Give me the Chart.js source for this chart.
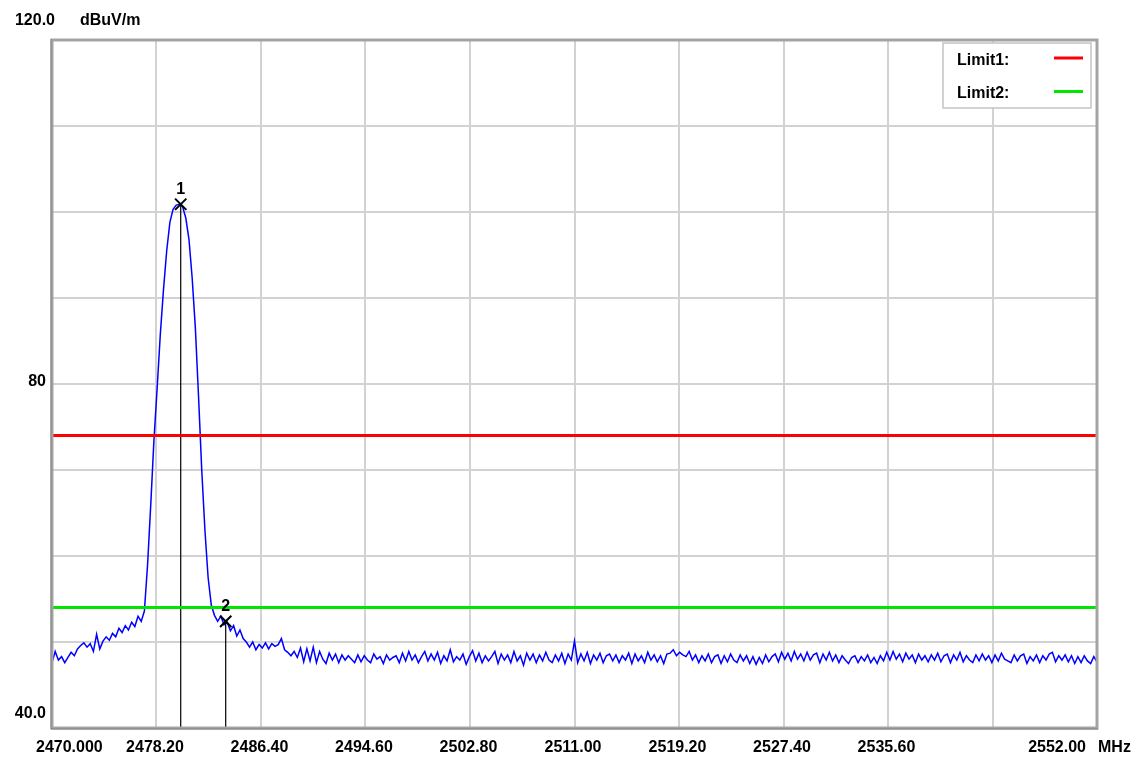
<!DOCTYPE html>
<html><head><meta charset="utf-8">
<script src="https://cdn.jsdelivr.net/npm/chart.js@4"></script>
<style>html,body{margin:0;padding:0;background:#fff;overflow:hidden}#wrap{width:1137px;height:758px;position:relative}</style>
</head><body><div id="wrap"><canvas id="c" width="1137" height="758"></canvas></div>
<script>
// ---- data ----
const freqStart = 2470.0;   // MHz, first sweep point
const freqStep = 0.25;      // MHz between sweep points
const levels = [
 47.6,48.9,47.9,48.3,47.6,48.2,48.8,48.4,49.2,49.6,49.9,49.4,49.8,48.9,50.9,49.2,50.1,50.6,50.2,51.0,
 50.6,51.6,51.1,51.9,51.4,52.3,51.8,53.0,52.4,53.6,59.0,66.0,73.5,79.5,85.8,91.0,95.5,98.8,100.3,100.8,
 100.9,100.6,99.3,96.8,92.3,86.5,78.5,70.0,63.0,57.5,54.3,53.1,52.4,53.0,52.0,52.3,51.3,51.9,50.7,51.4,
 50.4,50.0,49.4,50.0,49.1,49.7,49.3,49.9,49.2,49.8,49.5,49.7,50.4,49.1,48.8,48.4,48.9,
 48.2,49.3,47.7,49.2,47.8,49.4,47.6,48.9,48.0,47.5,48.7,47.9,48.6,47.6,48.5,47.9,48.4,48.0,47.6,48.5,
 47.7,48.4,47.9,47.6,48.6,48.0,48.3,47.5,48.5,47.9,48.2,48.4,47.6,48.7,47.8,48.9,47.9,48.5,47.6,48.3,
 48.9,47.8,48.6,47.9,48.8,47.5,48.4,47.8,49.1,47.7,48.3,47.9,48.6,47.4,48.3,49.0,47.8,48.7,47.6,48.4,
 47.8,48.3,48.9,47.5,48.6,47.9,48.5,47.6,48.9,47.8,48.4,47.3,48.7,47.9,48.6,47.6,48.5,47.8,48.8,47.9,
 47.6,48.5,47.8,48.7,47.5,48.6,47.9,50.1,47.6,48.6,47.8,48.8,47.5,48.5,47.9,48.7,47.6,48.4,48.6,47.8,
 48.5,47.6,48.4,47.9,48.7,47.5,48.6,47.8,48.4,47.6,48.8,47.9,48.5,47.7,48.4,47.5,48.6,48.7,49.1,48.4,
 48.8,48.5,48.3,48.9,47.9,48.5,47.6,48.4,47.8,48.6,47.6,48.3,48.5,47.5,48.4,47.7,48.6,47.9,47.6,48.5,
 47.8,48.4,47.5,48.3,47.4,48.2,47.5,48.5,47.7,48.3,48.6,47.7,48.8,48.0,48.7,47.8,48.9,48.0,48.6,47.8,
 48.8,47.9,48.5,48.7,47.6,48.6,47.9,48.8,47.8,48.5,47.6,48.4,47.9,47.5,48.2,48.4,47.6,48.3,47.8,48.5,
 47.6,48.2,47.5,48.4,47.8,48.8,47.9,48.9,48.0,48.6,47.7,48.7,48.0,48.5,47.6,48.6,47.9,48.4,47.7,48.5,
 47.9,48.7,47.7,48.4,48.6,47.6,48.5,47.9,48.8,47.7,48.4,47.9,47.6,48.5,47.8,48.6,47.9,48.4,47.6,48.5,
 47.8,48.7,48.0,47.8,47.6,48.5,47.8,48.4,48.6,47.5,48.3,47.8,48.5,47.6,48.4,47.9,48.6,48.8,47.7,48.4,
 47.9,48.5,47.7,48.4,47.5,48.3,47.6,48.4,47.8,47.5,48.3,47.7
];
const xTickValues = [2470.0,2478.2,2486.4,2494.6,2502.8,2511.0,2519.2,2527.4,2535.6,2543.8,2552.0];
const xTickLabels = ['2470.000','2478.20','2486.40','2494.60','2502.80','2511.00','2519.20','2527.40','2535.60','','2552.00'];
const yTickValues = [40,50,60,70,80,90,100,110,120];
const yTickLabels = ['40.0','','','','80','','','','120.0'];
const xUnit = 'MHz';
const yUnit = 'dBuV/m';
const limitNames = ['Limit1:','Limit2:'];
const limitLevels = [74.0, 54.0];
const limitColors = ['#ff0000','#00e600'];
const markerNames = ['1','2'];
const markerFreqs = [2480.1, 2483.63];
const markerLevels = [100.9, 52.4];

// ---- chart ----
const FONT = 'bold 16px "Liberation Sans", Arial, sans-serif';
const xMin = xTickValues[0], xMax = xTickValues[xTickValues.length-1];
const yMin = yTickValues[0], yMax = yTickValues[yTickValues.length-1];
const trace = levels.map((v,i)=>({x: freqStart + i*freqStep, y: v}));

const datasets = [];
limitLevels.forEach((lv,i)=>{
  datasets.push({data:[{x:xMin,y:lv},{x:xMax,y:lv}],borderColor:limitColors[i],borderWidth:3,pointRadius:0,order:1});
});
markerFreqs.forEach((f,i)=>{
  datasets.push({data:[{x:f,y:markerLevels[i]},{x:f,y:yMin}],borderColor:'#000',borderWidth:1.2,pointRadius:0,order:2});
});
datasets.push({data:markerFreqs.map((f,i)=>({x:f,y:markerLevels[i]})),showLine:false,pointStyle:'crossRot',pointRadius:8,pointBorderColor:'#000',pointBorderWidth:2,order:0});
datasets.push({data:trace,borderColor:'#0000ff',borderWidth:1.5,pointRadius:0,tension:0,order:3});

const overlay = {
  id:'overlay',
  afterDraw(chart){
    const ctx = chart.ctx, a = chart.chartArea, xs = chart.scales.x, ys = chart.scales.y;
    ctx.save();
    // frame
    ctx.strokeStyle = '#a4a4a4'; ctx.lineWidth = 3;
    ctx.strokeRect(a.left, a.top, a.right-a.left, a.bottom-a.top);
    ctx.strokeStyle = '#808080'; ctx.lineWidth = 1;
    ctx.beginPath(); ctx.moveTo(a.left-1, a.top-1); ctx.lineTo(a.left-1, a.bottom+1); ctx.lineTo(a.right+1, a.bottom+1); ctx.stroke();
    ctx.fillStyle = '#000'; ctx.font = FONT; ctx.textBaseline = 'alphabetic';
    // y labels
    yTickValues.forEach((v,i)=>{
      const t = yTickLabels[i]; if(!t) return;
      const y = ys.getPixelForValue(v);
      if (i === yTickValues.length-1) { ctx.textAlign='right'; ctx.fillText(t, a.left+3, a.top-15); }
      else if (i === 0) { ctx.textAlign='right'; ctx.fillText(t, a.left-6, y-10); }
      else { ctx.textAlign='right'; ctx.fillText(t, a.left-6, y+2); }
    });
    ctx.textAlign='left'; ctx.fillText(yUnit, a.left+28, a.top-15);
    // x labels
    const last = xTickValues.length-1;
    xTickValues.forEach((v,i)=>{
      const t = xTickLabels[i]; if(!t) return;
      const x = xs.getPixelForValue(v);
      if (i === 0) { ctx.textAlign='left'; ctx.fillText(t, x-16, a.bottom+24); }
      else if (i === last) { ctx.textAlign='right'; ctx.fillText(t, x-11, a.bottom+24); }
      else { ctx.textAlign='center'; ctx.fillText(t, x-1.5, a.bottom+24); }
    });
    ctx.textAlign='left'; ctx.fillText(xUnit, a.right+1, a.bottom+24);
    // marker names
    ctx.textAlign='center';
    markerFreqs.forEach((f,i)=>{
      ctx.fillText(markerNames[i], xs.getPixelForValue(f), ys.getPixelForValue(markerLevels[i])-10);
    });
    // legend box
    const bx = a.right-154, by = a.top+3, bw = 148, bh = 65;
    ctx.fillStyle = '#fff'; ctx.fillRect(bx, by, bw, bh);
    ctx.strokeStyle = '#c4c4c4'; ctx.lineWidth = 1.5; ctx.strokeRect(bx, by, bw, bh);
    ctx.textAlign='left';
    limitNames.forEach((n,i)=>{
      const ly = by + 21.5 + i*33.5;
      ctx.fillStyle = '#000'; ctx.fillText(n, bx+14, ly);
      ctx.strokeStyle = limitColors[i]; ctx.lineWidth = 3;
      ctx.beginPath(); ctx.moveTo(bx+111, ly-6.5); ctx.lineTo(bx+140, ly-6.5); ctx.stroke();
    });
    ctx.restore();
  }
};

new Chart(document.getElementById('c'), {
  type:'line',
  data:{datasets},
  options:{
    responsive:false, animation:false, devicePixelRatio:1,
    layout:{padding:{left:52,top:40,right:40,bottom:30}},
    plugins:{legend:{display:false},tooltip:{enabled:false}},
    scales:{
      x:{type:'linear',min:xMin,max:xMax,
         afterBuildTicks:s=>{s.ticks = xTickValues.map(v=>({value:v}));},
         ticks:{display:false},grid:{color:'#d2d2d2',lineWidth:2,drawTicks:false},border:{display:false}},
      y:{type:'linear',min:yMin,max:yMax,
         afterBuildTicks:s=>{s.ticks = yTickValues.map(v=>({value:v}));},
         ticks:{display:false},grid:{color:'#d2d2d2',lineWidth:2,drawTicks:false},border:{display:false}}
    }
  },
  plugins:[overlay]
});
</script>
</body></html>
